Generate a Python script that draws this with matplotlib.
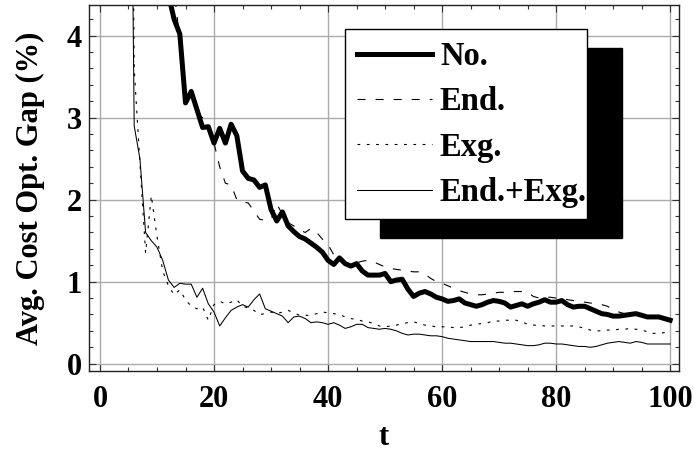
import matplotlib
matplotlib.use("Agg")
import matplotlib.pyplot as plt
from matplotlib.patches import Rectangle
from matplotlib.ticker import MultipleLocator

# t values (iterations) and average cost optimality gap (%) per variant
t_slow = list(range(12, 101))
t_fast = list(range(5, 101))

gap_no = [4.5, 4.2, 4.02, 3.18, 3.32, 3.1, 2.88, 2.89, 2.69, 2.87,
          2.69, 2.92, 2.78, 2.35, 2.26, 2.24, 2.15, 2.18, 1.88, 1.74,
          1.85, 1.68, 1.61, 1.55, 1.52, 1.47, 1.42, 1.36, 1.26, 1.21,
          1.29, 1.22, 1.19, 1.22, 1.13, 1.08, 1.08, 1.08, 1.10, 1.00,
          1.02, 1.03, 0.91, 0.82, 0.86, 0.88, 0.85, 0.81, 0.79, 0.76,
          0.77, 0.79, 0.74, 0.72, 0.70, 0.72, 0.75, 0.77, 0.76, 0.74,
          0.69, 0.71, 0.73, 0.70, 0.73, 0.75, 0.78, 0.75, 0.75, 0.77,
          0.72, 0.69, 0.70, 0.70, 0.67, 0.64, 0.61, 0.60, 0.58, 0.58,
          0.59, 0.60, 0.61, 0.59, 0.57, 0.57, 0.57, 0.55, 0.53]

gap_end = [5.2, 4.55, 3.95, 3.25, 3.3, 3.05, 3.0, 2.85, 2.69, 2.4,
           2.2, 2.18, 2.0, 1.97, 1.96, 1.86, 1.76, 1.75, 1.76, 1.95,
           1.82, 1.72, 1.68, 1.63, 1.6, 1.65, 1.6, 1.52, 1.45, 1.33,
           1.27, 1.23, 1.22, 1.23, 1.25, 1.26, 1.24, 1.21, 1.18, 1.16,
           1.15, 1.14, 1.13, 1.12, 1.12, 1.09, 1.04, 1.0, 0.98, 0.95,
           0.92, 0.89, 0.87, 0.85, 0.84, 0.84, 0.85, 0.86, 0.87, 0.87,
           0.88, 0.88, 0.88, 0.87, 0.82, 0.80, 0.81, 0.81, 0.80, 0.80,
           0.78, 0.77, 0.76, 0.75, 0.74, 0.73, 0.72, 0.70, 0.66, 0.63,
           0.61, 0.60, 0.60, 0.59, 0.58, 0.58, 0.57, 0.56, 0.55]

gap_exg = [12, 3.6, 2.45, 1.35, 2.05, 1.55, 1.13, 0.95, 0.84, 0.90,
           0.78, 0.70, 0.67, 0.69, 0.53, 0.72, 0.76, 0.73, 0.75, 0.78,
           0.70, 0.68, 0.65, 0.60, 0.61, 0.63, 0.61, 0.63, 0.65, 0.62,
           0.59, 0.59, 0.59, 0.61, 0.63, 0.62, 0.61, 0.60, 0.57, 0.55,
           0.54, 0.52, 0.51, 0.49, 0.46, 0.45, 0.46, 0.47, 0.49, 0.50,
           0.51, 0.49, 0.47, 0.46, 0.45, 0.45, 0.45, 0.44, 0.44, 0.45,
           0.47, 0.48, 0.49, 0.50, 0.52, 0.52, 0.53, 0.53, 0.53, 0.51,
           0.48, 0.47, 0.47, 0.46, 0.46, 0.46, 0.46, 0.46, 0.46, 0.45,
           0.43, 0.41, 0.40, 0.40, 0.41, 0.41, 0.42, 0.42, 0.43, 0.42,
           0.41, 0.39, 0.37, 0.37, 0.38, 0.38]

gap_both = [10, 2.9, 2.5, 1.6, 1.5, 1.42, 1.26, 1.02, 0.93, 0.98,
            0.97, 0.97, 0.81, 0.92, 0.73, 0.63, 0.46, 0.56, 0.65, 0.69,
            0.72, 0.69, 0.78, 0.85, 0.67, 0.64, 0.61, 0.58, 0.50, 0.57,
            0.58, 0.55, 0.50, 0.51, 0.50, 0.48, 0.50, 0.47, 0.43, 0.45,
            0.48, 0.48, 0.44, 0.43, 0.42, 0.43, 0.42, 0.40, 0.37, 0.35,
            0.36, 0.36, 0.35, 0.34, 0.34, 0.33, 0.31, 0.30, 0.29, 0.28,
            0.27, 0.27, 0.27, 0.27, 0.27, 0.26, 0.25, 0.25, 0.24, 0.23,
            0.22, 0.22, 0.23, 0.25, 0.25, 0.24, 0.24, 0.23, 0.22, 0.21,
            0.21, 0.20, 0.21, 0.23, 0.25, 0.26, 0.27, 0.26, 0.25, 0.27,
            0.26, 0.24, 0.24, 0.24, 0.24, 0.24]

labels = ["No.", "End.", "Exg.", "End.+Exg."]

plt.rcParams['font.family'] = ['Liberation Serif', 'DejaVu Serif']
plt.rcParams['font.weight'] = 'bold'
plt.rcParams['lines.scale_dashes'] = False

W, H = 694, 466
fig = plt.figure(figsize=(W / 100, H / 100), dpi=100)
ax = fig.add_axes([0.1278, 0.2032, 0.851, 0.7854])

ax.plot(t_slow, gap_no, color='black', lw=3.6, label=labels[0])
ax.plot(t_slow, gap_end, color='black', lw=0.8, ls=(0, (5.8, 7.2)), label=labels[1])
ax.plot(t_fast, gap_exg, color='black', lw=0.8, ls=(0, (2.0, 4.7)), label=labels[2])
ax.plot(t_fast, gap_both, color='black', lw=0.75, label=labels[3])

ax.set_xlim(-1.98, 101.6)
ax.set_ylim(-0.093, 4.37)
ax.xaxis.set_major_locator(MultipleLocator(20))
ax.xaxis.set_minor_locator(MultipleLocator(5))
ax.yaxis.set_major_locator(MultipleLocator(1))
ax.yaxis.set_minor_locator(MultipleLocator(0.2))
ax.grid(True, which='major', color='#ababab', lw=1.0)
ax.set_axisbelow(True)

ax.tick_params(which='both', direction='in', top=True, right=True,
               color='#333333', width=0.8, labelsize=22)
ax.tick_params(which='major', length=5)
ax.tick_params(which='minor', length=3.2)
ax.tick_params(axis='x', pad=10)
ax.tick_params(axis='y', pad=5)
for s in ax.spines.values():
    s.set_linewidth(1.0)
    s.set_color('#222222')

ax.set_xlabel("t", fontsize=22, fontweight='bold', va='center')
ax.xaxis.set_label_coords(0.5, -0.18)
ax.set_ylabel("Avg. Cost Opt. Gap (%)", fontsize=22, fontweight='bold', va='center')
ax.yaxis.set_label_coords(-0.0994, 0.5)

# legend box with a solid black drop shadow (drawn by hand)
bx, by, bw, bh = 345, 29.3, 242.3, 190
shadow = Rectangle(((bx + 35) / W, 1 - (by + bh + 19) / H), bw / W, bh / H,
                   transform=fig.transFigure, facecolor='black',
                   edgecolor='black', clip_on=False, zorder=4)
box = Rectangle((bx / W, 1 - (by + bh) / H), bw / W, bh / H,
                transform=fig.transFigure, facecolor='white',
                edgecolor='black', lw=1.0, clip_on=False, zorder=4.5)
ax.add_patch(shadow)
ax.add_patch(box)

leg = ax.legend(loc='upper left', bbox_to_anchor=(356.7 / W, 1 - 41 / H),
                bbox_transform=fig.transFigure, borderaxespad=0, borderpad=0,
                frameon=False,
                prop={'family': 'Liberation Serif', 'weight': 'bold', 'size': 23.5},
                handlelength=2.3, handletextpad=0.25, labelspacing=0.44)
leg.set_zorder(5)

fig.savefig("out.png", dpi=100)
